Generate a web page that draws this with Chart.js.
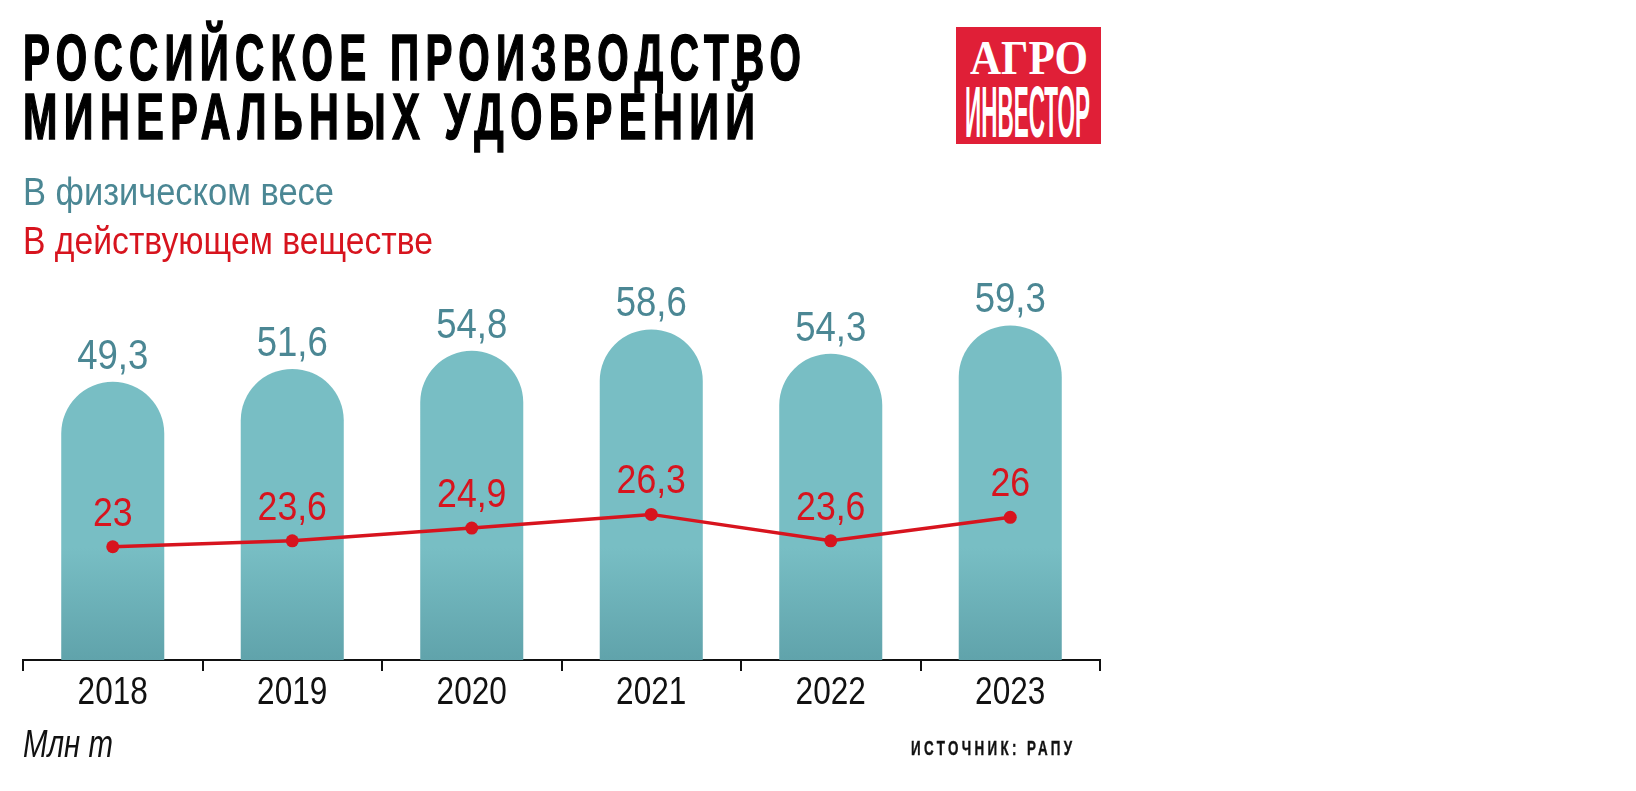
<!DOCTYPE html>
<html lang="ru">
<head>
<meta charset="utf-8">
<title>Российское производство минеральных удобрений</title>
<script src="https://cdn.jsdelivr.net/npm/chart.js@4.4.1/dist/chart.umd.min.js"></script>
<style>
  html, body { margin: 0; padding: 0; background: #fff; }
  body { width: 1636px; height: 791px; overflow: hidden; position: relative;
         font-family: "Liberation Sans", Arial, sans-serif; }
  #chart { position: absolute; left: 0; top: 0; }
  .abs { position: absolute; white-space: nowrap; display: inline-block; }
  .title { left: 23px; font-weight: bold; font-size: 64px; line-height: 64px; color: #000;
           letter-spacing: 10px; -webkit-text-stroke: 1.6px #000; }
  .sub { left: 23px; font-size: 39px; line-height: 39px; }
  #logo { position: absolute; left: 956px; top: 27px; width: 145px; height: 117px; background: #e01f37; overflow: hidden; }
  #logo span { position: absolute; white-space: nowrap; color: #fff; display: inline-block; }
  #agro { font-family: "Liberation Serif", "DejaVu Serif", serif; font-weight: bold; font-size: 49px; line-height: 49px; }
  #invest { font-weight: bold; font-size: 72px; line-height: 72px; }
  #unit { left: 23px; top: 725px; font-size: 38px; line-height: 38px; font-style: italic; color: #111; }
  #source { right: 561px; top: 738px; font-size: 20px; line-height: 20px; font-weight: bold; letter-spacing: 5px;
            color: #111; -webkit-text-stroke: 0.4px #111; }
</style>
</head>
<body>
<canvas id="chart" width="1636" height="791"></canvas>

<div class="abs title" id="t1" style="top:26px">РОССИЙСКОЕ ПРОИЗВОДСТВО</div>
<div class="abs title" id="t2" style="top:85px">МИНЕРАЛЬНЫХ УДОБРЕНИЙ</div>
<div class="abs sub" id="s1" style="top:172px; color:#4b8794">В физическом весе</div>
<div class="abs sub" id="s2" style="top:221px; color:#d7141e">В действующем веществе</div>

<div id="logo">
  <span id="agro">АГРО</span>
  <span id="invest">ИНВЕСТОР</span>
</div>

<div class="abs" id="unit">Млн т</div>
<div class="abs" id="source">ИСТОЧНИК: РАПУ</div>

<script>
// ---- data ----
const categories = ['2018', '2019', '2020', '2021', '2022', '2023'];
const physicalWeight = [49.3, 51.6, 54.8, 58.6, 54.3, 59.3];
const activeSubstance = [23, 23.6, 24.9, 26.3, 23.6, 26];

const FONT = '"Liberation Sans", Arial, sans-serif';
const TEAL_TEXT = '#4b8794';
const RED = '#d7141e';

// ---- squeeze html text horizontally to the widths seen in the reference (condensed look) ----
function fit(id, targetW, origin) {
  const el = document.getElementById(id);
  const ls = parseFloat(getComputedStyle(el).letterSpacing) || 0;
  const w = el.getBoundingClientRect().width - ls;
  el.style.transformOrigin = (origin || 'left') + ' top';
  el.style.transform = 'scaleX(' + (targetW / w) + ')';
}
function place(id, left, top) {
  const el = document.getElementById(id);
  el.style.left = left + 'px';
  el.style.top = top + 'px';
}
fit('t1', 778);
fit('t2', 732);
fit('s1', 311);
fit('s2', 410);
fit('unit', 90);
fit('source', 161, 'right');
place('agro', 14, 6);
fit('agro', 118);
place('invest', 9, 49);
fit('invest', 125);

const fmt = v => String(v).replace('.', ',');

function condText(c, text, x, y, size, sx, color, weight) {
  c.save();
  c.font = (weight ? weight + ' ' : '') + size + 'px ' + FONT;
  c.fillStyle = color;
  c.textAlign = 'center';
  c.textBaseline = 'alphabetic';
  c.translate(x, y);
  c.scale(sx, 1);
  c.fillText(text, 0, 0);
  c.restore();
}

const barFill = (ctx) => {
  const chart = ctx.chart;
  const area = chart.chartArea;
  if (!area) return '#78bec4';
  const g = chart.ctx.createLinearGradient(0, area.bottom, 0, area.top);
  g.addColorStop(0, '#60a3ab');
  g.addColorStop(0.28, '#78bec4');
  g.addColorStop(1, '#78bec4');
  return g;
};

const textLayer = {
  id: 'textLayer',
  afterDatasetsDraw(chart) {
    const c = chart.ctx;
    chart.getDatasetMeta(0).data.forEach((el, i) => {
      condText(c, fmt(physicalWeight[i]), el.x, el.y - 13, 42, 0.87, TEAL_TEXT);
    });
    chart.getDatasetMeta(1).data.forEach((el, i) => {
      condText(c, fmt(activeSubstance[i]), el.x, el.y - 21, 41, 0.87, RED);
    });
  },
  afterDraw(chart) {
    const c = chart.ctx;
    const xs = chart.scales.x;
    categories.forEach((lab, i) => {
      condText(c, lab, xs.getPixelForTick(i), chart.chartArea.bottom + 44, 39, 0.81, '#111');
    });
  }
};

new Chart(document.getElementById('chart'), {
  type: 'bar',
  data: {
    labels: categories,
    datasets: [
      {
        type: 'bar',
        label: 'В физическом весе',
        data: physicalWeight,
        yAxisID: 'y',
        backgroundColor: barFill,
        borderWidth: 0,
        borderRadius: { topLeft: 999, topRight: 999, bottomLeft: 0, bottomRight: 0 },
        borderSkipped: 'start',
        barPercentage: 0.574,
        categoryPercentage: 1,
        order: 2
      },
      {
        type: 'line',
        label: 'В действующем веществе',
        data: activeSubstance,
        yAxisID: 'y1',
        borderColor: RED,
        borderWidth: 3.5,
        pointRadius: 6.5,
        pointBackgroundColor: RED,
        pointBorderWidth: 0,
        tension: 0,
        order: 1
      }
    ]
  },
  options: {
    responsive: false,
    animation: false,
    devicePixelRatio: 1,
    layout: { padding: { left: 23, right: 536, top: 260, bottom: 71 } },
    plugins: { legend: { display: false }, tooltip: { enabled: false } },
    scales: {
      x: {
        grid: {
          display: true, drawOnChartArea: false, drawTicks: true,
          tickLength: 11, tickWidth: 2, tickColor: '#111', color: '#111', lineWidth: 2, offset: true
        },
        border: { display: true, color: '#111', width: 2 },
        ticks: { color: 'rgba(0,0,0,0)', font: { family: FONT, size: 39 }, padding: -5, maxRotation: 0, autoSkip: false },
        afterFit: (s) => { s.height = 60; }
      },
      y: { display: false, min: 0, max: 70.9 },
      y1: { display: false, min: 11.44, max: 52.26 }
    }
  },
  plugins: [textLayer]
});
</script>
</body>
</html>
